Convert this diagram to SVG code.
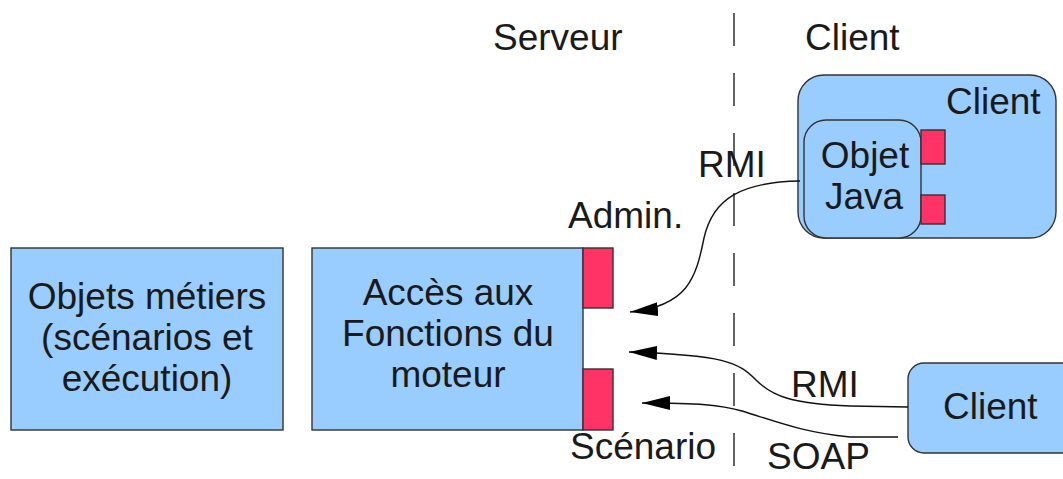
<svg xmlns="http://www.w3.org/2000/svg" width="1063" height="479" viewBox="0 0 1063 479">
<defs>
<style>
.box{fill:#99ccff;stroke:#333;stroke-width:1.4}
.port{fill:#ff3366;stroke:#333;stroke-width:1.4}
.t{font-family:"Liberation Sans",Arial,sans-serif;font-size:37px;fill:#1a1a1a}
.c{text-anchor:middle}
.conn{fill:none;stroke:#111;stroke-width:1.4}
</style>
<marker id="ah" markerWidth="30" markerHeight="14" refX="28" refY="7" orient="auto" markerUnits="userSpaceOnUse">
<path d="M0,0 L28,7 L0,14 Z" fill="#000"/>
</marker>
</defs>
<rect width="1063" height="479" fill="#fff"/>
<g id="divider">
<line x1="734" y1="13" x2="734" y2="470" stroke="#222" stroke-width="1.4" stroke-dasharray="33 27"/>
</g>
<g id="labels">
<text class="t" x="493" y="50">Serveur</text>
<text class="t" x="805" y="50">Client</text>
</g>
<g id="objets">
<rect class="box" x="11" y="248" width="272" height="182"/>
<text class="t c" x="147" y="309">Objets métiers</text>
<text class="t c" x="147" y="350">(scénarios et</text>
<text class="t c" x="147" y="391">exécution)</text>
</g>
<g id="acces">
<rect class="box" x="312" y="248" width="271" height="182"/>
<rect class="port" x="583" y="248" width="30" height="60"/>
<rect class="port" x="583" y="369" width="30" height="61"/>
<text class="t c" x="448" y="305">Accès aux</text>
<text class="t c" x="448" y="346">Fonctions du</text>
<text class="t c" x="448" y="387">moteur</text>
<text class="t" x="568" y="228">Admin.</text>
<text class="t" x="570" y="459">Scénario</text>
</g>
<g id="client1">
<rect class="box" x="798" y="75" width="258" height="163" rx="26"/>
<text class="t" x="946" y="114">Client</text>
<rect class="box" x="804" y="120" width="117" height="118" rx="22"/>
<rect class="port" x="921" y="130" width="24" height="34"/>
<rect class="port" x="921" y="195" width="24" height="29"/>
<text class="t c" x="865" y="168">Objet</text>
<text class="t c" x="864" y="209">Java</text>
</g>
<g id="client2">
<rect class="box" x="908" y="363" width="180" height="90" rx="16"/>
<text class="t" x="943" y="419">Client</text>
</g>
<g id="connectors">
<path class="conn" d="M800,181 C742,182 713,198 704,238 C696,278 688,306 630,312" marker-end="url(#ah)"/>
<path class="conn" d="M908,407 L850,406 C792,404 772,396 756,380 C738,362 724,355 629,352" marker-end="url(#ah)"/>
<path class="conn" d="M898,437 L850,437 C800,432 772,420 742,411 C720,405 700,403 642,403" marker-end="url(#ah)"/>
<text class="t" x="698" y="177">RMI</text>
<text class="t" x="791" y="397">RMI</text>
<text class="t" x="767" y="469">SOAP</text>
</g>
</svg>
